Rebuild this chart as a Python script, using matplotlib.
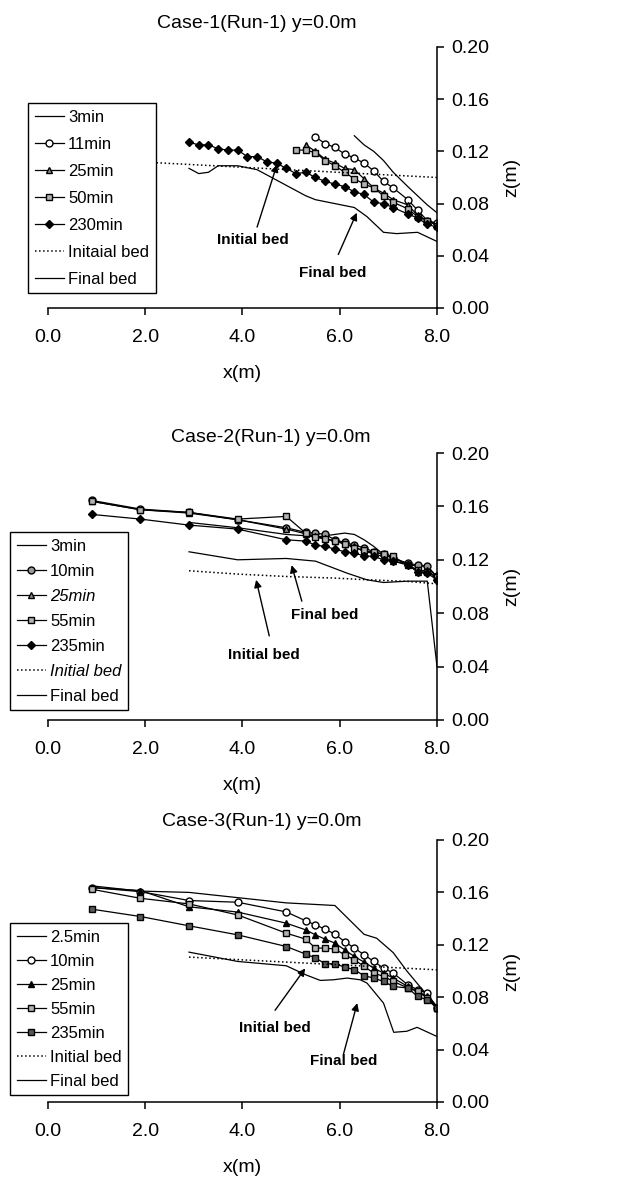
import matplotlib
matplotlib.use('Agg')
import matplotlib.pyplot as plt

# ---------------- data ----------------
x_ticks = [0.0, 2.0, 4.0, 6.0, 8.0]
x_tick_labels = ["0.0", "2.0", "4.0", "6.0", "8.0"]
z_ticks = [0.00, 0.04, 0.08, 0.12, 0.16, 0.20]
z_tick_labels = ["0.00", "0.04", "0.08", "0.12", "0.16", "0.20"]

# Case-1
c1_title = "Case-1(Run-1) y=0.0m"
c1_labels = ["3min", "11min", "25min", "50min", "230min", "Initaial bed", "Final bed"]
c1_x_3 = [6.3, 6.5, 6.7, 6.9, 7.1, 7.4, 7.6, 7.8, 8.0]
c1_z_3 = [0.132, 0.125, 0.120, 0.113, 0.104, 0.093, 0.086, 0.079, 0.073]
c1_x_11 = [5.5, 5.7, 5.9, 6.1, 6.3, 6.5, 6.7, 6.9, 7.1, 7.4, 7.6, 7.8, 8.0]
c1_z_11 = [0.131, 0.126, 0.123, 0.118, 0.115, 0.111, 0.105, 0.097, 0.092, 0.083, 0.075, 0.067, 0.065]
c1_x_25 = [5.3, 5.5, 5.7, 5.9, 6.1, 6.3, 6.5, 6.7, 6.9, 7.1, 7.4, 7.6, 7.8, 8.0]
c1_z_25 = [0.125, 0.120, 0.114, 0.111, 0.107, 0.106, 0.099, 0.092, 0.088, 0.083, 0.079, 0.071, 0.067, 0.064]
c1_x_50 = [5.1, 5.3, 5.5, 5.7, 5.9, 6.1, 6.3, 6.5, 6.7, 6.9, 7.1, 7.4, 7.6, 7.8, 8.0]
c1_z_50 = [0.121, 0.121, 0.119, 0.113, 0.109, 0.104, 0.099, 0.095, 0.092, 0.086, 0.081, 0.076, 0.070, 0.067, 0.063]
c1_x_230 = [2.9, 3.1, 3.3, 3.5, 3.7, 3.9, 4.1, 4.3, 4.5, 4.7, 4.9, 5.1, 5.3, 5.5, 5.7, 5.9,
            6.1, 6.3, 6.5, 6.7, 6.9, 7.1, 7.4, 7.6, 7.8, 8.0]
c1_z_230 = [0.127, 0.125, 0.125, 0.122, 0.121, 0.121, 0.116, 0.116, 0.112, 0.111, 0.107, 0.103,
            0.104, 0.100, 0.097, 0.095, 0.093, 0.089, 0.087, 0.081, 0.080, 0.077, 0.072, 0.069,
            0.064, 0.062]
c1_x_init = [0.9, 2.9, 8.0]
c1_z_init = [0.114, 0.110, 0.100]
c1_x_final = [2.9, 3.1, 3.3, 3.5, 3.9, 4.3, 4.7, 5.1, 5.3, 5.5, 5.9, 6.3, 6.56, 6.9, 7.17, 7.6, 8.0]
c1_z_final = [0.107, 0.103, 0.104, 0.109, 0.109, 0.106, 0.098, 0.090, 0.086, 0.083, 0.080, 0.077,
              0.070, 0.058, 0.057, 0.058, 0.051]

# Case-2
c2_title = "Case-2(Run-1) y=0.0m"
c2_labels = ["3min", "10min", "25min", "55min", "235min", "Initial bed", "Final bed"]
c2_x = [0.9, 1.9, 2.9, 3.9, 4.9, 5.3, 5.5, 5.7, 5.9, 6.1, 6.3, 6.5, 6.7, 6.9, 7.1, 7.4, 7.6, 7.8, 8.0]
c2_x_3 = [2.9, 3.9, 4.9, 5.3, 5.5, 5.9, 6.1, 6.3, 6.5, 6.7, 6.9, 7.1, 7.4, 7.6, 7.8, 8.0]
c2_z_3 = [0.148, 0.144, 0.139, 0.138, 0.137, 0.139, 0.140, 0.139, 0.135, 0.130, 0.124, 0.121,
          0.117, 0.115, 0.116, 0.106]
c2_z_10 = [0.1645, 0.158, 0.1555, 0.150, 0.144, 0.1405, 0.140, 0.139, 0.135, 0.133, 0.131, 0.129,
           0.126, 0.124, 0.121, 0.1175, 0.116, 0.115, 0.1075]
c2_z_25 = [0.1638, 0.1575, 0.155, 0.150, 0.143, 0.1395, 0.1375, 0.136, 0.134, 0.132, 0.130, 0.126,
           0.125, 0.122, 0.119, 0.117, 0.111, 0.1125, 0.1055]
c2_z_55 = [0.1638, 0.1575, 0.1555, 0.1505, 0.1525, 0.140, 0.137, 0.1355, 0.134, 0.132, 0.129, 0.127,
           0.1255, 0.1245, 0.1225, 0.116, 0.1125, 0.111, 0.107]
c2_z_235 = [0.154, 0.1505, 0.146, 0.143, 0.135, 0.134, 0.131, 0.130, 0.128, 0.126, 0.125, 0.123,
            0.1225, 0.120, 0.119, 0.116, 0.111, 0.110, 0.105]
c2_x_init = [2.9, 3.9, 4.9, 5.9, 6.6, 7.4, 8.0]
c2_z_init = [0.1118, 0.1093, 0.1075, 0.1063, 0.105, 0.1038, 0.102]
c2_x_final = [2.9, 3.9, 4.9, 5.5, 6.15, 6.56, 6.9, 7.4, 7.8, 8.0]
c2_z_final = [0.126, 0.120, 0.121, 0.119, 0.110, 0.105, 0.103, 0.104, 0.104, 0.040]

# Case-3
c3_title = "Case-3(Run-1) y=0.0m"
c3_labels = ["2.5min", "10min", "25min", "55min", "235min", "Initial bed", "Final bed"]
c3_x = [0.9, 1.9, 2.9, 3.9, 4.9, 5.3, 5.5, 5.7, 5.9, 6.1, 6.3, 6.5, 6.7, 6.9, 7.1, 7.4, 7.6, 7.8, 8.0]
c3_x_25m = [0.9, 1.9, 2.9, 3.9, 4.9, 5.9, 6.5, 6.76, 7.1, 7.38, 7.65, 8.0]
c3_z_25m = [0.165, 0.161, 0.160, 0.156, 0.152, 0.150, 0.128, 0.125, 0.114, 0.100, 0.088, 0.073]
c3_z_10 = [0.1637, 0.1606, 0.1538, 0.1525, 0.1451, 0.1383, 0.1352, 0.1319, 0.1281, 0.1225, 0.1175,
           0.1124, 0.1073, 0.1022, 0.0984, 0.0895, 0.0857, 0.0832, 0.0717]
c3_z_25 = [0.1637, 0.1614, 0.149, 0.145, 0.1365, 0.1314, 0.1276, 0.1243, 0.1213, 0.1162, 0.1111,
           0.1068, 0.1022, 0.0984, 0.0946, 0.0882, 0.0844, 0.0806, 0.0717]
c3_z_55 = [0.1624, 0.1555, 0.1512, 0.1428, 0.1289, 0.1243, 0.1175, 0.1175, 0.1167, 0.1124, 0.1086,
           0.1035, 0.0984, 0.0959, 0.0921, 0.087, 0.0844, 0.0794, 0.0717]
c3_z_235 = [0.1472, 0.1416, 0.1345, 0.1276, 0.1187, 0.1129, 0.110, 0.1055, 0.1055, 0.103, 0.101,
            0.0964, 0.0946, 0.092, 0.0882, 0.087, 0.0806, 0.078, 0.0717]
c3_x_init = [2.9, 8.0]
c3_z_init = [0.1106, 0.1009]
c3_x_final = [2.9, 3.9, 4.9, 5.3, 5.6, 5.87, 6.15, 6.42, 6.56, 6.9, 7.11, 7.38, 7.59, 8.0]
c3_z_final = [0.1144, 0.1073, 0.104, 0.0971, 0.0928, 0.0933, 0.0946, 0.0933, 0.0908, 0.0755,
              0.0532, 0.054, 0.057, 0.050]

# ---------------- style ----------------
plt.rcParams['font.family'] = ['Liberation Sans', 'DejaVu Sans']
FS_TICK = 14
FS_TITLE = 14
FS_LEG = 12
FS_ANN = 11

W, H = 640, 1184
fig = plt.figure(figsize=(W / 100, H / 100), dpi=100)
fig.patch.set_facecolor('white')

LEFT, RIGHT = 48, 437
panels = [(47, 308), (453, 720), (840, 1102)]
title_pos = [(257, 23), (271, 437), (262, 821)]

lw = 0.9
ms = 5

def make_ax(i):
    top, bot = panels[i]
    ax = fig.add_axes([LEFT / W, 1 - bot / H, (RIGHT - LEFT) / W, (bot - top) / H])
    ax.set_xlim(0, 8)
    ax.set_ylim(0, 0.2)
    ax.spines['left'].set_visible(False)
    ax.spines['top'].set_visible(False)
    ax.spines['right'].set_linewidth(1.1)
    ax.spines['bottom'].set_linewidth(1.1)
    ax.yaxis.tick_right()
    ax.yaxis.set_label_position('right')
    ax.set_xticks(x_ticks)
    ax.set_xticklabels(x_tick_labels)
    ax.set_yticks(z_ticks)
    ax.set_yticklabels(z_tick_labels)
    ax.tick_params(direction='out', length=5, width=1.1, labelsize=FS_TICK)
    ax.tick_params(axis='y', pad=5)
    ax.tick_params(axis='x', pad=10)
    ax.set_ylabel('z(m)', fontsize=FS_TICK, rotation=90, labelpad=10)
    ax.set_xlabel('x(m)', fontsize=FS_TICK, va='center')
    ax.xaxis.set_label_coords(0.5, -66 / (bot - top))
    tx, ty = title_pos[i]
    fig.text(tx / W, 1 - ty / H, [c1_title, c2_title, c3_title][i], fontsize=FS_TITLE,
             ha='center', va='center')
    return ax

def arrow(ax, tip, tail):
    ax.annotate('', xy=tip, xytext=tail,
                arrowprops=dict(arrowstyle='-|>', color='k', lw=1.0, mutation_scale=11,
                                shrinkA=0, shrinkB=0))

def legend(ax, pos, spacing, italic_idx=()):
    x0, y0 = pos
    leg = ax.legend(loc='upper left', bbox_to_anchor=(x0 / W, 1 - y0 / H),
                    bbox_transform=fig.transFigure, fontsize=FS_LEG, frameon=True,
                    fancybox=False, framealpha=1, edgecolor='k', handlelength=1.75,
                    handletextpad=0.25, labelspacing=spacing, borderpad=0.4,
                    borderaxespad=0)
    leg.get_frame().set_linewidth(1.0)
    for k in italic_idx:
        leg.get_texts()[k].set_fontstyle('italic')
    return leg

# ---------------- Case-1 ----------------
ax = make_ax(0)
ax.plot(c1_x_3, c1_z_3, '-', color='k', lw=lw, label=c1_labels[0])
ax.plot(c1_x_11, c1_z_11, '-o', color='k', lw=lw, ms=ms, mfc='white', mec='k', label=c1_labels[1])
ax.plot(c1_x_25, c1_z_25, '-^', color='k', lw=lw, ms=ms, mfc='0.55', mec='k', label=c1_labels[2])
ax.plot(c1_x_50, c1_z_50, '-s', color='k', lw=lw, ms=ms - 0.5, mfc='0.7', mec='k', label=c1_labels[3])
ax.plot(c1_x_230, c1_z_230, '-D', color='k', lw=lw, ms=ms - 0.8, mfc='k', mec='k', label=c1_labels[4])
ax.plot(c1_x_init, c1_z_init, ':', color='k', lw=1.1, label=c1_labels[5])
ax.plot(c1_x_final, c1_z_final, '-', color='k', lw=lw, label=c1_labels[6])
ax.text(4.22, 0.052, 'Initial bed', fontsize=FS_ANN, ha='center', va='center', fontweight='bold')
arrow(ax, (4.71, 0.110), (4.30, 0.062))
ax.text(5.86, 0.027, 'Final bed', fontsize=FS_ANN, ha='center', va='center', fontweight='bold')
arrow(ax, (6.35, 0.073), (5.97, 0.041))
legend(ax, (28, 103), 0.72)

# ---------------- Case-2 ----------------
ax = make_ax(1)
ax.plot(c2_x_3, c2_z_3, '-', color='k', lw=lw, label=c2_labels[0])
ax.plot(c2_x, c2_z_10, '-o', color='k', lw=lw, ms=ms, mfc='0.6', mec='k', label=c2_labels[1])
ax.plot(c2_x, c2_z_25, '-^', color='k', lw=lw, ms=ms, mfc='0.55', mec='k', label=c2_labels[2])
ax.plot(c2_x, c2_z_55, '-s', color='k', lw=lw, ms=ms - 0.5, mfc='0.7', mec='k', label=c2_labels[3])
ax.plot(c2_x, c2_z_235, '-D', color='k', lw=lw, ms=ms - 0.8, mfc='k', mec='k', label=c2_labels[4])
ax.plot(c2_x_init, c2_z_init, ':', color='k', lw=1.1, label=c2_labels[5])
ax.plot(c2_x_final, c2_z_final, '-', color='k', lw=lw, label=c2_labels[6])
ax.text(5.70, 0.079, 'Final bed', fontsize=FS_ANN, ha='center', va='center', fontweight='bold')
arrow(ax, (5.01, 0.116), (5.22, 0.089))
ax.text(4.43, 0.049, 'Initial bed', fontsize=FS_ANN, ha='center', va='center', fontweight='bold')
arrow(ax, (4.28, 0.105), (4.55, 0.063))
legend(ax, (10, 532), 0.6, italic_idx=(2, 5))

# ---------------- Case-3 ----------------
ax = make_ax(2)
ax.plot(c3_x_25m, c3_z_25m, '-', color='k', lw=lw, label=c3_labels[0])
ax.plot(c3_x, c3_z_10, '-o', color='k', lw=lw, ms=ms, mfc='white', mec='k', label=c3_labels[1])
ax.plot(c3_x, c3_z_25, '-^', color='k', lw=lw, ms=ms, mfc='k', mec='k', label=c3_labels[2])
ax.plot(c3_x, c3_z_55, '-s', color='k', lw=lw, ms=ms - 0.5, mfc='0.7', mec='k', label=c3_labels[3])
ax.plot(c3_x, c3_z_235, '-s', color='k', lw=lw, ms=ms - 0.5, mfc='0.35', mec='k', label=c3_labels[4])
ax.plot(c3_x_init, c3_z_init, ':', color='k', lw=1.1, label=c3_labels[5])
ax.plot(c3_x_final, c3_z_final, '-', color='k', lw=lw, label=c3_labels[6])
ax.text(4.67, 0.0565, 'Initial bed', fontsize=FS_ANN, ha='center', va='center', fontweight='bold')
arrow(ax, (5.29, 0.102), (4.67, 0.070))
ax.text(6.08, 0.031, 'Final bed', fontsize=FS_ANN, ha='center', va='center', fontweight='bold')
arrow(ax, (6.36, 0.0755), (6.08, 0.037))
legend(ax, (10, 923), 0.54)

fig.savefig('out.png', dpi=100, facecolor='white')
